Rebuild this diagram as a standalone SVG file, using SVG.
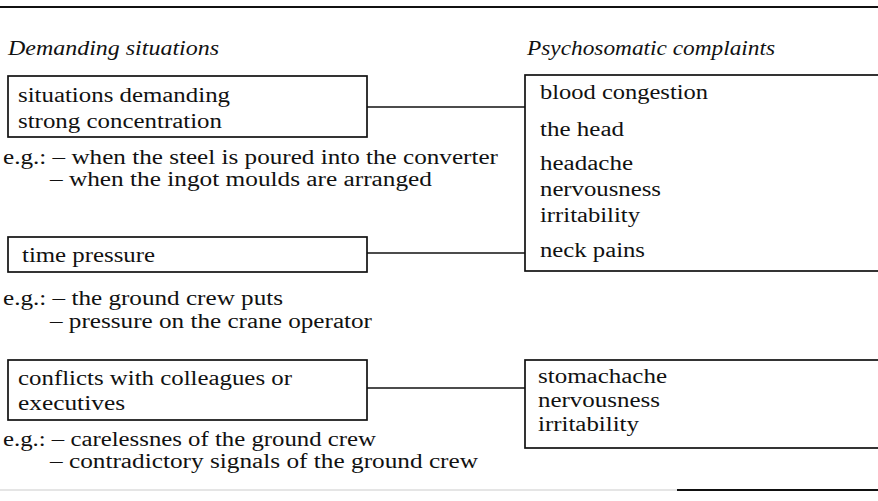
<svg xmlns="http://www.w3.org/2000/svg" width="878" height="501" viewBox="0 0 878 501">
<style>
  text { font-family: "Liberation Serif", "Times New Roman", serif; font-size: 20px; fill: #111111; }
  .hdr { font-style: italic; }
  .box { fill: none; stroke: #111111; stroke-width: 1.7; }
  .conn { stroke: #111111; stroke-width: 1.5; fill: none; }
  .rule { stroke: #111111; stroke-width: 2; }
  .rule-faint { stroke: #dcdcdc; stroke-width: 1.5; }
</style>
<rect x="0" y="0" width="878" height="501" fill="#ffffff"/>

<g id="rules">
  <line class="rule" x1="0" y1="7" x2="878" y2="7"/>
  <line class="rule-faint" x1="0" y1="490" x2="677" y2="490"/>
  <line class="rule" x1="677" y1="490" x2="878" y2="490"/>
</g>

<g id="headers">
  <text class="hdr" x="8" y="55" textLength="211" lengthAdjust="spacingAndGlyphs">Demanding situations</text>
  <text class="hdr" x="527" y="55" textLength="248" lengthAdjust="spacingAndGlyphs">Psychosomatic complaints</text>
</g>

<g id="connectors">
  <line class="conn" x1="367" y1="107" x2="525" y2="107"/>
  <line class="conn" x1="367" y1="253" x2="525" y2="253"/>
  <line class="conn" x1="367" y1="388" x2="525" y2="388"/>
</g>

<g id="node-concentration">
  <rect class="box" x="8" y="76" width="359" height="61"/>
  <text x="18" y="102" textLength="212" lengthAdjust="spacingAndGlyphs">situations demanding</text>
  <text x="18" y="128" textLength="204" lengthAdjust="spacingAndGlyphs">strong concentration</text>
</g>
<g id="examples-concentration">
  <text x="3" y="164" textLength="495" lengthAdjust="spacingAndGlyphs">e.g.: – when the steel is poured into the converter</text>
  <text x="50" y="186" textLength="382" lengthAdjust="spacingAndGlyphs">– when the ingot moulds are arranged</text>
</g>

<g id="node-time-pressure">
  <rect class="box" x="8" y="237" width="359" height="35"/>
  <text x="22" y="262" textLength="133" lengthAdjust="spacingAndGlyphs">time pressure</text>
</g>
<g id="examples-time-pressure">
  <text x="3" y="305" textLength="280" lengthAdjust="spacingAndGlyphs">e.g.: – the ground crew puts</text>
  <text x="50" y="328" textLength="322" lengthAdjust="spacingAndGlyphs">– pressure on the crane operator</text>
</g>

<g id="node-conflicts">
  <rect class="box" x="8" y="360" width="359" height="60"/>
  <text x="18" y="385" textLength="274" lengthAdjust="spacingAndGlyphs">conflicts with colleagues or</text>
  <text x="18" y="410" textLength="107" lengthAdjust="spacingAndGlyphs">executives</text>
</g>
<g id="examples-conflicts">
  <text x="3" y="446" textLength="373" lengthAdjust="spacingAndGlyphs">e.g.: – carelessnes of the ground crew</text>
  <text x="50" y="468" textLength="428" lengthAdjust="spacingAndGlyphs">– contradictory signals of the ground crew</text>
</g>

<g id="node-complaints-head">
  <rect class="box" x="525" y="75" width="360" height="196"/>
  <text x="540" y="99" textLength="168" lengthAdjust="spacingAndGlyphs">blood congestion</text>
  <text x="540" y="136" textLength="84" lengthAdjust="spacingAndGlyphs">the head</text>
  <text x="540" y="170" textLength="93" lengthAdjust="spacingAndGlyphs">headache</text>
  <text x="540" y="196" textLength="121" lengthAdjust="spacingAndGlyphs">nervousness</text>
  <text x="540" y="222" textLength="100" lengthAdjust="spacingAndGlyphs">irritability</text>
  <text x="540" y="257" textLength="105" lengthAdjust="spacingAndGlyphs">neck pains</text>
</g>

<g id="node-complaints-stomach">
  <rect class="box" x="525" y="360" width="360" height="88"/>
  <text x="538" y="383" textLength="129" lengthAdjust="spacingAndGlyphs">stomachache</text>
  <text x="538" y="407" textLength="122" lengthAdjust="spacingAndGlyphs">nervousness</text>
  <text x="538" y="431" textLength="101" lengthAdjust="spacingAndGlyphs">irritability</text>
</g>
</svg>
